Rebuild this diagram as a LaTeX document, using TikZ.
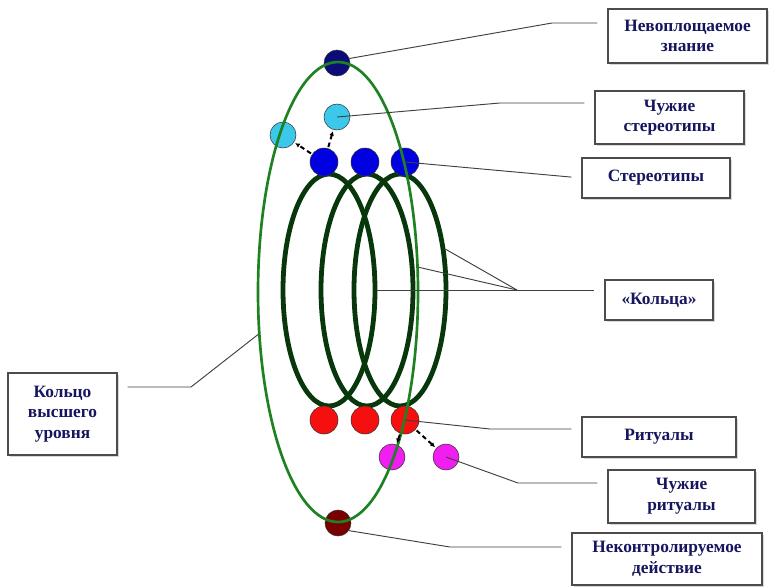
\documentclass[tikz,border=0pt]{standalone}
\usepackage{fontspec}
\setmainfont{Liberation Serif}
\usetikzlibrary{shapes.geometric,arrows.meta,shadows}
\definecolor{navyball}{RGB}{12,12,120}
\definecolor{cyanball}{RGB}{60,200,235}
\definecolor{blueball}{RGB}{0,0,225}
\definecolor{redball}{RGB}{245,15,15}
\definecolor{magball}{RGB}{240,30,240}
\definecolor{darkball}{RGB}{120,0,0}
\definecolor{bigring}{RGB}{30,130,35}
\definecolor{smallring}{RGB}{8,55,12}
\definecolor{txtnavy}{RGB}{22,22,95}
\begin{document}
\begin{tikzpicture}[x=0.75pt,y=-0.75pt,
  ball/.style={circle, draw=black!80, line width=0.4pt, inner sep=0pt, minimum size=21pt},
  sball/.style={ball, minimum size=19.5pt},
  ringnode/.style={ellipse, draw=smallring, line width=3.6pt, inner sep=0pt, minimum width=69pt, minimum height=174pt},
  lbl/.style={draw=black!70, line width=0.9pt, fill=white, text=txtnavy, align=center, inner sep=0pt,
    font=\fontsize{13}{15.5}\selectfont\bfseries,
    drop shadow={shadow xshift=1.2pt, shadow yshift=-1.2pt, fill=black!30}},
  conn/.style={draw=black!75, line width=0.7pt, shorten >=7.5pt},
  connp/.style={draw=black!75, line width=0.7pt},
  dashc/.style={draw=black, line width=1.5pt, dash pattern=on 3.5pt off 2.5pt, shorten <=1pt, shorten >=1pt, -{Latex[length=3.5pt,width=3.5pt]}}
]
\useasboundingbox (0,0) rectangle (770,587);
\fill[white] (0,0) rectangle (770,587);

% small rings
\node[ringnode] (ring1) at (329,290) {};
\node[ringnode] (ring2) at (367,290) {};
\node[ringnode] (ring3) at (400,290) {};

% balls
\node[sball, fill=navyball] (nv) at (337,63) {};
\node[sball, fill=cyanball] (cy2) at (337,117) {};
\node[sball, fill=cyanball] (cy1) at (283,135) {};
\node[ball, fill=blueball] (b1) at (324,162) {};
\node[ball, fill=blueball] (b2) at (365,162) {};
\node[ball, fill=blueball] (b3) at (405,162) {};
\node[ball, fill=redball] (r1) at (324,420) {};
\node[ball, fill=redball] (r2) at (365,420) {};
\node[ball, fill=redball] (r3) at (405,420) {};
\node[sball, fill=magball] (m1) at (392,457) {};
\node[sball, fill=magball] (m2) at (446,457) {};
\node[sball, fill=darkball] (dr) at (338,523) {};

% big ring
\node[ellipse, draw=bigring, line width=2pt, inner sep=0pt, minimum width=120pt, minimum height=345pt] (big) at (338,292) {};

% dashed links
\draw[dashc] (b1) -- (cy1);
\draw[dashc] (b1) -- (cy2);
\draw[dashc] (r3) -- (m1);
\draw[dashc] (r3) -- (m2);

% labels
\node[lbl, minimum width=119.25pt, minimum height=40.5pt] (nevop) at (687.5,36) {Невоплощаемое\\знание};
\node[lbl, minimum width=111.75pt, minimum height=39.75pt] (chst) at (669.5,117.5) {Чужие\\стереотипы};
\node[lbl, minimum width=111pt, minimum height=30pt] (stereo) at (656,178) {Стереотипы};
\node[lbl, minimum width=81pt, minimum height=30pt] (koltsa) at (659,300) {«Кольца»};
\node[lbl, minimum width=115.5pt, minimum height=30pt] (ritualy) at (659,437) {Ритуалы};
\node[lbl, minimum width=110.25pt, minimum height=39.75pt] (chrit) at (681.5,496.5) {Чужие\\ритуалы};
\node[lbl, minimum width=142.5pt, minimum height=39pt] (nekontr) at (667,559) {Неконтролируемое\\действие};
\node[lbl, minimum width=81.75pt, minimum height=61.5pt] (koltso) at (62.5,414) {Кольцо\\высшего\\уровня};

% connectors
\coordinate (k1) at (552,23);
\draw[conn] (nv.20) -- (k1) -- (k1 -| nevop.west);
\coordinate (k2) at (500,103);
\draw[conn] (cy2.center) -- (k2) -- (k2 -| chst.west);
\draw[conn] (b3.center) -- (stereo.west);
\coordinate (k3) at (517,290);
\draw[conn] (ring1.east) -- (ring1.east -| koltsa.west);
\draw[connp] (ring3.42) -- (k3);
\draw[connp] (big.17) -- (k3);
\coordinate (k4) at (490,429);
\draw[conn] (r3.center) -- (k4) -- (k4 -| ritualy.west);
\coordinate (k5) at (518,483);
\draw[conn] (m2.center) -- (k5) -- (k5 -| chrit.west);
\coordinate (k6) at (450,547);
\draw[conn] (dr.-35) -- (k6) -- (k6 -| nekontr.west);
\coordinate (k7) at (191,387);
\draw[conn] (big.208) -- (k7) -- (k7 -| koltso.east);
\end{tikzpicture}
\end{document}
